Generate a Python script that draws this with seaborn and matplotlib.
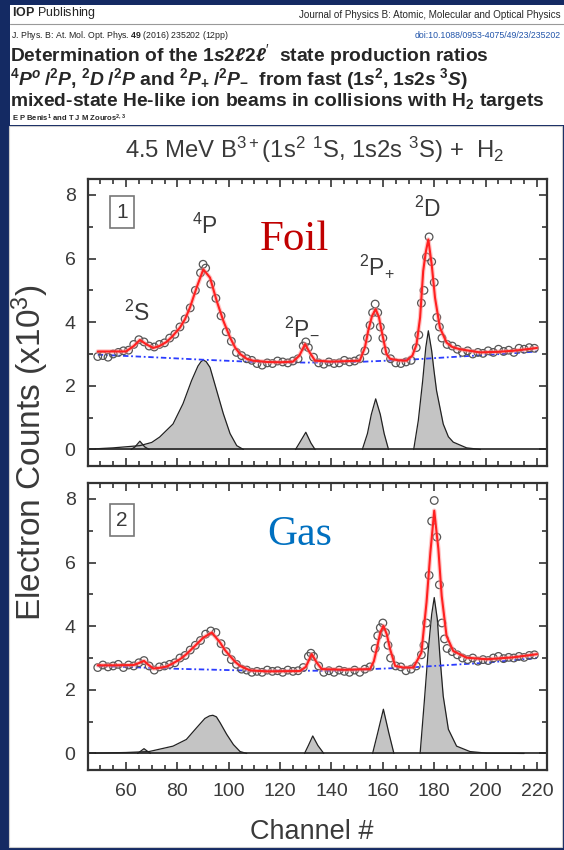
import numpy as np
import pandas as pd
import matplotlib
matplotlib.use("Agg")
import matplotlib.pyplot as plt
import seaborn as sns
from matplotlib.patches import Rectangle
from matplotlib.ticker import MultipleLocator

# ---- measured spectrum, foil (counts x10^3) ----
foil_ch = [49, 51, 53, 55, 57, 59, 61, 63, 65, 67,
           69, 71, 73, 75, 77, 79, 81, 83, 85, 87,
           89, 90, 91, 93, 95, 97, 99, 101, 103, 105,
           107, 109, 111, 113, 115, 117, 119, 121, 123, 125,
           127, 129, 130, 131, 133, 135, 137, 139, 141, 143,
           145, 147, 149, 151, 153, 154, 155, 156, 157, 158,
           159, 160, 161, 163, 165, 167, 169, 171, 173, 174,
           175, 176, 177, 178, 179, 180, 181, 182, 183, 185,
           187, 189, 191, 193, 195, 197, 199, 201, 203, 205,
           207, 209, 211, 213, 215, 217, 219]
foil_counts = [2.92, 2.95, 2.90, 3.00, 3.05, 3.10, 3.12, 3.30, 3.45, 3.38,
               3.25, 3.22, 3.30, 3.35, 3.50, 3.62, 3.85, 4.10, 4.45, 5.00,
               5.55, 5.82, 5.70, 5.20, 4.75, 4.20, 3.70, 3.40, 3.05, 2.95,
               2.85, 2.80, 2.70, 2.65, 2.72, 2.70, 2.78, 2.75, 2.72, 2.78,
               2.85, 3.25, 3.38, 3.20, 2.90, 2.72, 2.68, 2.75, 2.70, 2.72,
               2.80, 2.75, 2.78, 2.85, 3.10, 3.50, 3.90, 4.30, 4.57, 4.30,
               3.85, 3.50, 3.10, 2.85, 2.72, 2.70, 2.75, 2.80, 3.20, 3.60,
               4.60, 5.00, 6.05, 6.68, 5.90, 5.25, 4.15, 3.85, 3.50, 3.30,
               3.25, 3.15, 3.05, 3.10, 3.00, 3.05, 3.02, 3.10, 3.05, 3.15,
               3.08, 3.12, 3.05, 3.18, 3.15, 3.20, 3.18]

# ---- measured spectrum, gas ----
gas_ch = [49, 51, 53, 55, 57, 59, 61, 63, 65, 67,
          69, 71, 73, 75, 77, 79, 81, 83, 85, 87,
          89, 91, 93, 95, 97, 99, 101, 103, 105, 107,
          109, 111, 113, 115, 117, 119, 121, 123, 125, 127,
          129, 131, 132, 133, 135, 137, 139, 141, 143, 145,
          147, 149, 151, 153, 155, 157, 158, 159, 160, 161,
          162, 163, 165, 167, 169, 171, 173, 175, 176, 177,
          178, 179, 180, 181, 182, 183, 184, 185, 187, 189,
          191, 193, 195, 197, 199, 201, 203, 205, 207, 209,
          211, 213, 215, 217, 219]
gas_counts = [2.70, 2.78, 2.72, 2.75, 2.80, 2.70, 2.78, 2.75, 2.85, 2.92,
              2.75, 2.62, 2.72, 2.75, 2.80, 2.85, 3.00, 3.08, 3.25, 3.40,
              3.55, 3.75, 3.85, 3.80, 3.45, 3.20, 2.95, 2.80, 2.65, 2.62,
              2.55, 2.58, 2.55, 2.62, 2.58, 2.60, 2.55, 2.62, 2.58, 2.60,
              2.70, 3.05, 3.15, 3.05, 2.75, 2.55, 2.60, 2.55, 2.62, 2.58,
              2.55, 2.62, 2.55, 2.65, 2.72, 3.30, 3.70, 3.95, 4.10, 3.80,
              3.40, 3.00, 2.75, 2.72, 2.60, 2.65, 2.75, 3.10, 3.40, 4.10,
              5.60, 7.30, 7.95, 6.80, 5.30, 4.10, 3.60, 3.30, 3.20, 3.10,
              3.00, 2.95, 3.00, 2.90, 2.95, 2.92, 3.00, 3.05, 2.98, 3.02,
              3.00, 3.05, 3.02, 3.08, 3.10]

# ---- fitted curves ----
foil_fit_ch = [49, 55, 60, 63, 65.4, 68, 70.6, 73, 75.8, 78, 81, 83, 84.9, 87.5,
               90.1, 92.7, 95.3, 97.9, 100.5, 102.5, 104.4, 107, 109.5, 115, 120,
               125, 127.5, 129.7, 131.5, 133.6, 140, 151, 153, 154.3, 155.8, 157.2,
               158.5, 159.5, 161.4, 162.8, 166, 169.2, 171.5, 173.1, 174.5, 175.7,
               176.7, 177.7, 179, 180.3, 182.2, 184.8, 187, 190, 197.8, 205, 210.7,
               215, 220]
foil_fit = [3.08, 3.08, 3.08, 3.25, 3.44, 3.30, 3.19, 3.25, 3.38, 3.55, 3.83, 4.10, 4.46, 5.09,
            5.66, 5.40, 4.67, 4.04, 3.52, 3.20, 3.00, 2.85, 2.79, 2.75, 2.74,
            2.76, 2.95, 3.31, 3.05, 2.79, 2.76, 2.79, 3.20, 3.73, 4.20, 4.41,
            4.15, 3.73, 3.00, 2.85, 2.80, 2.79, 2.95, 3.30, 4.15, 5.61,
            6.20, 6.60, 5.82, 4.77, 3.83, 3.36, 3.22, 3.15, 3.05, 3.07, 3.10,
            3.14, 3.19]
foil_bg_ch = [49, 70, 90, 110, 130, 150, 170, 190, 210, 220]
foil_bg = [2.98, 2.90, 2.82, 2.75, 2.73, 2.75, 2.82, 2.92, 3.02, 3.08]

gas_fit_ch = [49, 55, 63, 65, 67, 68.8, 70.6, 73, 75.8, 78, 81, 83.5, 86.2, 90.1,
              93.4, 96.6, 98.5, 100.5, 102.5, 104.4, 108.3, 114.8, 127.7, 130, 132.3,
              134.3, 136.2, 145, 155, 156.5, 157.6, 159, 160.2, 161.5, 162.8, 164.8,
              168, 171.9, 175, 177, 178.5, 180, 181.6, 182.9, 184.8, 187.4, 192.6,
              200.4, 210.7, 220]
gas_fit = [2.77, 2.77, 2.78, 2.84, 2.91, 2.78, 2.67, 2.69, 2.73, 2.82, 2.96, 3.12, 3.33, 3.64,
           3.80, 3.49, 3.25, 3.06, 2.88, 2.75, 2.61, 2.58, 2.59, 2.72, 3.12,
           2.85, 2.65, 2.63, 2.65, 2.90, 3.28, 3.80, 4.01, 3.75, 3.28, 2.75,
           2.70, 2.70, 3.17, 4.75, 6.32, 7.63, 6.43, 4.95, 3.69, 3.22, 3.01,
           2.96, 3.02, 3.12]
gas_bg_ch = [49, 80, 110, 140, 170, 200, 220]
gas_bg = [2.75, 2.66, 2.60, 2.60, 2.70, 2.85, 3.00]

# ---- fitted peak components ----
foil_peaks = {
    "2S": ([62, 63.5, 65.4, 67.3, 69], [0, 0.08, 0.26, 0.08, 0]),
    "4P": ([48, 55, 65.4, 70, 73.1, 78.3, 82.2, 85.5, 88, 89.2, 90.1, 91.2, 92.7, 95.3, 97.9, 100.5, 103.1, 105.7],
           [0.02, 0.05, 0.12, 0.22, 0.39, 0.80, 1.44, 2.16, 2.62, 2.76, 2.81, 2.76, 2.58, 1.85, 1.12, 0.50, 0.12, 0]),
    "2P-": ([126, 127.5, 130, 132, 133.6], [0, 0.2, 0.54, 0.2, 0]),
    "2P+": ([152, 154, 155.5, 157.2, 159, 160.5, 162.2], [0, 0.5, 1.1, 1.59, 1.1, 0.5, 0]),
    "2D": ([172, 173.8, 175.5, 176.7, 177.7, 179, 179.9, 180.9, 183.5, 185.5, 187.4, 192.6, 198],
           [0, 0.91, 2.16, 3.2, 3.73, 3.1, 2.48, 1.85, 0.8, 0.4, 0.23, 0.05, 0]),
}
gas_peaks = {
    "2S": ([64.5, 67, 69.5], [0, 0.15, 0]),
    "4P": ([48, 60, 69, 78.3, 83.5, 87.5, 90.7, 92.5, 93.8, 95.2, 96.6, 99.2, 101.8, 104.4, 107],
           [0.01, 0.03, 0.06, 0.23, 0.44, 0.81, 1.10, 1.18, 1.20, 1.15, 0.97, 0.60, 0.28, 0.06, 0]),
    "2P-": ([129.5, 131, 132.7, 134.7, 137], [0, 0.25, 0.55, 0.25, 0]),
    "2P+": ([156, 158, 160.2, 162.3, 164.3], [0, 0.65, 1.39, 0.65, 0]),
    "2D": ([174.5, 176.1, 177.7, 179, 180, 181.2, 182.2, 183.5, 185.5, 188.7, 193.9, 200.4, 215],
           [0, 1.6, 3.28, 4.37, 4.9, 4.22, 3.06, 1.8, 0.76, 0.23, 0.06, 0.01, 0]),
}

peak_labels = [r"$^{2}$S", r"$^{4}$P", r"$^{2}$P$_{-}$", r"$^{2}$P$_{+}$", r"$^{2}$D"]
label_pos = [(64.3, 4.29), (90.8, 7.02), (128.5, 3.85), (157.7, 5.74), (177.6, 7.55)]

sns.set_theme(style="ticks")
plt.rcParams["font.family"] = ["Liberation Sans", "DejaVu Sans"]
plt.rcParams["mathtext.fontset"] = "custom"
plt.rcParams["mathtext.rm"] = "Liberation Sans"
plt.rcParams["mathtext.it"] = "Liberation Sans:italic"
plt.rcParams["mathtext.bf"] = "Liberation Sans:bold"
plt.rcParams["mathtext.bfit"] = "Liberation Sans:italic:bold"

W, H = 564, 850
def fx(x): return x / W
def fy(y): return 1 - y / H

fig = plt.figure(figsize=(5.64, 8.5), dpi=100, facecolor="#142a63")
fig.add_artist(Rectangle((fx(10), fy(125)), fx(554), 120 / H, transform=fig.transFigure,
                         fc="white", ec="none", zorder=0))
fig.add_artist(Rectangle((fx(9), fy(847)), fx(553), 721 / H, transform=fig.transFigure,
                         fc="white", ec="#cccccc", lw=0.8, zorder=0))
fig.add_artist(plt.Line2D([fx(10), fx(564)], [fy(24), fy(24)], transform=fig.transFigure,
                          color="#999999", lw=0.8))

# ---- header of the paper ----
fig.text(fx(12), fy(13), r"$\mathbf{IOP}$ Publishing", fontsize=9, va="center")
fig.text(fx(561), fy(15), "Journal of Physics B: Atomic, Molecular and Optical Physics",
         fontsize=7.1, ha="right", va="center")
fig.text(fx(11), fy(35), r"J. Phys. B: At. Mol. Opt. Phys. $\mathbf{49}$ (2016) 235202 (12pp)",
         fontsize=6.3, va="center", color="#222222")
fig.text(fx(561), fy(35), "doi:10.1088/0953-4075/49/23/235202", fontsize=6.3,
         ha="right", va="center", color="#2255aa")
title_lines = [
    r"Determination of the $\mathbf{1}\mathbfit{s}\mathbf{2}\mathbfit{ℓ}\mathbf{2}\mathbfit{ℓ}'$  state production ratios",
    r"$^{\mathbf{4}}\mathbfit{P}^{\mathbfit{o}}\;\mathbf{/}^{\mathbf{2}}\mathbfit{P}$, "
    r"$^{\mathbf{2}}\mathbfit{D}\;\mathbf{/}^{\mathbf{2}}\mathbfit{P}$ and "
    r"$^{\mathbf{2}}\mathbfit{P}_{\mathbf{+}}\;\mathbf{/}^{\mathbf{2}}\mathbfit{P}_{\mathbf{-}}$  from fast "
    r"($\mathbf{1}\mathbfit{s}^{\mathbf{2}}\mathbf{,}\;\mathbf{1}\mathbfit{s}\mathbf{2}\mathbfit{s}\;^{\mathbf{3}}\mathbfit{S}$)",
    r"mixed-state He-like ion beams in collisions with H$_{\mathbf{2}}$ targets",
]
for yy, line in zip([55, 79, 101], title_lines):
    fig.text(fx(10), fy(yy), line, fontsize=13.9, fontweight="bold", va="center")
fig.text(fx(12), fy(118), r"E P Benis$^{\mathbf{1}}$ and T J M Zouros$^{\mathbf{2,3}}$",
         fontsize=5.5, fontweight="bold", va="center")

txt = "#3a3a3a"
fig.text(fx(315), fy(150), r"4.5 MeV B$^{3+}$(1s$^{2}$ $^{1}$S, 1s2s $^{3}$S) +  H$_{2}$",
         fontsize=17.2, ha="center", va="center", color=txt)
fig.text(fx(30), fy(453), r"Electron Counts (x10$^{3}$)", fontsize=24, rotation=90,
         ha="center", va="center", color=txt)
fig.text(fx(312), fy(832), "Channel #", fontsize=19.5, ha="center", va="center", color=txt)


def draw_panel(ax, ch, counts, fit_ch, fit, bg_ch, bg, peaks, num):
    for name, (px, py) in peaks.items():
        ax.fill_between(px, 0, py, color="#c4c4c4", lw=0, zorder=1)
        ax.plot(px, py, color="#222222", lw=0.9, zorder=2)
    ax.axhline(0, color="#222222", lw=1.2, zorder=2)
    sns.lineplot(x=bg_ch, y=bg, ax=ax, color="#2b3cff", lw=1.3, dashes=False,
                 linestyle=(0, (3, 1.5, 1, 1.5)), sort=False, estimator=None, zorder=3)
    sns.scatterplot(x=ch, y=counts, ax=ax, s=30, facecolors="none", edgecolor="#555555",
                    linewidth=0.9, zorder=4)
    sns.lineplot(x=fit_ch, y=fit, ax=ax, color="#ff9090", lw=3.2, alpha=0.5,
                 sort=False, estimator=None, zorder=5)
    sns.lineplot(x=fit_ch, y=fit, ax=ax, color="#ff2020", lw=1.5,
                 sort=False, estimator=None, zorder=6)
    ax.set_xlim(45.2, 223.9)
    ax.set_ylim(-0.52, 8.5)
    ax.xaxis.set_major_locator(MultipleLocator(20))
    ax.xaxis.set_minor_locator(MultipleLocator(5))
    ax.yaxis.set_major_locator(MultipleLocator(2))
    ax.yaxis.set_minor_locator(MultipleLocator(1))
    ax.tick_params(which="both", direction="in", top=True, right=True, colors="#333333",
                   labelcolor=txt, labelsize=14, width=1.2)
    ax.tick_params(which="major", length=6, pad=9)
    ax.tick_params(which="minor", length=3.5)
    for sp in ax.spines.values():
        sp.set_color("#333333")
        sp.set_linewidth(1.6)
    ax.set_xlabel("")
    ax.set_ylabel("")
    ax.text(0.074, 0.885 if num == "1" else 0.871, num, transform=ax.transAxes, fontsize=15,
            ha="center", va="center", color=txt,
            bbox=dict(boxstyle="square,pad=0.3", fc="white", ec="#777777", lw=1.2))


ax1 = fig.add_axes([fx(88), fy(466), 459 / W, 287 / H])
ax2 = fig.add_axes([fx(88), fy(770), 459 / W, 287 / H])
draw_panel(ax1, foil_ch, foil_counts, foil_fit_ch, foil_fit, foil_bg_ch, foil_bg, foil_peaks, "1")
draw_panel(ax2, gas_ch, gas_counts, gas_fit_ch, gas_fit, gas_bg_ch, gas_bg, gas_peaks, "2")
ax1.set_xticklabels([])

for lab, (lx, ly) in zip(peak_labels, label_pos):
    ax1.text(lx, ly, lab, fontsize=16.5, ha="center", va="center", color=txt, zorder=7)

fig.text(fx(294), fy(240), "Foil", fontsize=31, color="#c00000", family="Liberation Serif",
         ha="center", va="center")
fig.text(fx(300), fy(535), "Gas", fontsize=30, color="#0070c0", family="Liberation Serif",
         ha="center", va="center")

fig.savefig("out.png", dpi=100, facecolor=fig.get_facecolor())
